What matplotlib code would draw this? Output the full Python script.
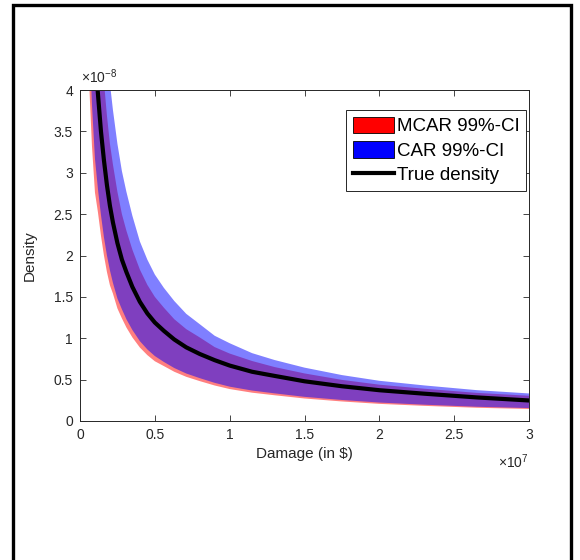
import matplotlib
matplotlib.use("Agg")
import matplotlib.pyplot as plt
from matplotlib.patches import Patch, Rectangle
from matplotlib.lines import Line2D

plt.rcParams['font.family'] = ['Liberation Sans', 'DejaVu Sans']
plt.rcParams['mathtext.fontset'] = 'custom'
plt.rcParams['mathtext.rm'] = 'Liberation Sans'

# Damage values (in units of 1e7 $)
damage = [0.04, 0.06, 0.08, 0.10, 0.12, 0.14, 0.16, 0.18, 0.20, 0.22, 0.25,
          0.28, 0.31, 0.35, 0.40, 0.45, 0.50, 0.56, 0.63, 0.71, 0.80, 0.90,
          1.00, 1.15, 1.30, 1.50, 1.75, 2.00, 2.30, 2.65, 3.00]
# Densities (in units of 1e-8)
true_density = [9.0, 6.6, 5.3, 4.4, 3.95, 3.5, 3.15, 2.85, 2.6, 2.40, 2.15,
                1.95, 1.80, 1.62, 1.44, 1.30, 1.19, 1.09, 0.985, 0.89, 0.81, 0.735,
                0.67, 0.595, 0.545, 0.48, 0.42, 0.372, 0.33, 0.285, 0.248]
car_upper = [14.6, 10.7, 8.6, 7.08, 6.32, 5.57, 4.99, 4.49, 4.08, 3.76, 3.35,
             3.02, 2.77, 2.48, 2.17, 1.95, 1.77, 1.61, 1.45, 1.295, 1.17, 1.03,
             0.94, 0.82, 0.737, 0.645, 0.555, 0.486, 0.43, 0.373, 0.333]
car_lower = [6.48, 4.75, 3.82, 3.17, 2.80, 2.49, 2.22, 2.00, 1.82, 1.67, 1.48,
             1.35, 1.23, 1.10, 0.965, 0.865, 0.785, 0.714, 0.64, 0.574, 0.518, 0.461,
             0.415, 0.368, 0.334, 0.292, 0.254, 0.223, 0.197, 0.172, 0.156]
mcar_upper = [11.9, 8.71, 7.0, 5.76, 5.17, 4.55, 4.10, 3.69, 3.35, 3.10, 2.77,
              2.50, 2.30, 2.07, 1.83, 1.645, 1.50, 1.37, 1.23, 1.11, 1.01, 0.893,
              0.815, 0.725, 0.652, 0.575, 0.497, 0.439, 0.39, 0.34, 0.305]
mcar_lower = [5.64, 4.13, 3.32, 2.76, 2.52, 2.24, 2.0, 1.80, 1.64, 1.54, 1.36,
              1.24, 1.13, 1.01, 0.888, 0.796, 0.722, 0.664, 0.595, 0.534, 0.482, 0.429,
              0.386, 0.342, 0.311, 0.272, 0.236, 0.207, 0.183, 0.160, 0.145]

xticks = [0, 0.5, 1, 1.5, 2, 2.5, 3]
xticklabels = ['0', '0.5', '1', '1.5', '2', '2.5', '3']
yticks = [0, 0.5, 1, 1.5, 2, 2.5, 3, 3.5, 4]
yticklabels = ['0', '0.5', '1', '1.5', '2', '2.5', '3', '3.5', '4']
legend_labels = ['MCAR 99%-CI', 'CAR 99%-CI', 'True density']

W, H = 580, 560
AX_L, AX_R, AX_T, AX_B = 80, 529, 90, 421
fig = plt.figure(figsize=(W / 100, H / 100), dpi=100)
ax = fig.add_axes([AX_L / W, 1 - AX_B / H, (AX_R - AX_L) / W, (AX_B - AX_T) / H])
aw, ah = AX_R - AX_L, AX_B - AX_T

gray = '#262626'
ax.fill_between(damage, mcar_lower, mcar_upper, facecolor='red', alpha=0.5, linewidth=0)
ax.fill_between(damage, car_lower, car_upper, facecolor='blue', alpha=0.5, linewidth=0)
ax.plot(damage, true_density, color='black', linewidth=3)

ax.set_xlim(0, 3)
ax.set_ylim(0, 4)
ax.set_xticks(xticks)
ax.set_xticklabels(xticklabels)
ax.set_yticks(yticks)
ax.set_yticklabels(yticklabels)
ax.tick_params(direction='in', length=4, width=0.6, colors=gray, labelsize=10,
               top=True, right=True, pad=5)
for s in ax.spines.values():
    s.set_color(gray)
    s.set_linewidth(0.7)

ax.set_xlabel('Damage (in $)', fontsize=11, color=gray)
ax.xaxis.set_label_coords(0.5, (AX_B - 447) / ah)
ax.set_ylabel('Density', fontsize=11, color=gray)
ax.yaxis.set_label_coords((37 - AX_L) / aw, 0.5)

fig.text(81 / W, 1 - 77 / H, r'$\mathregular{\times10^{-8}}$', fontsize=10,
         color=gray, ha='left', va='center')
fig.text(AX_R / W, 1 - 462 / H, r'$\mathregular{\times10^{7}}$', fontsize=10,
         color=gray, ha='right', va='center')

handles = [Patch(facecolor='red', edgecolor='black', linewidth=0.6),
           Patch(facecolor='blue', edgecolor='black', linewidth=0.6),
           Line2D([0], [0], color='black', linewidth=3)]
leg = ax.legend(handles, legend_labels, loc='upper right',
                bbox_to_anchor=((526 - AX_L) / aw, (AX_B - 110) / ah),
                borderaxespad=0, fontsize=13.5, frameon=True, fancybox=False,
                framealpha=1, edgecolor=gray, handlelength=2.2, handleheight=1.0,
                handletextpad=0.15, labelspacing=0.3, borderpad=0.35)
leg.get_frame().set_linewidth(0.7)

border = Rectangle((13 / W, -0.05), (571 - 13) / W, 1 - 5 / H + 0.05,
                   transform=fig.transFigure, fill=False, edgecolor='black',
                   linewidth=2.4, clip_on=False)
fig.patches.append(border)

fig.savefig('out.png', dpi=100)
